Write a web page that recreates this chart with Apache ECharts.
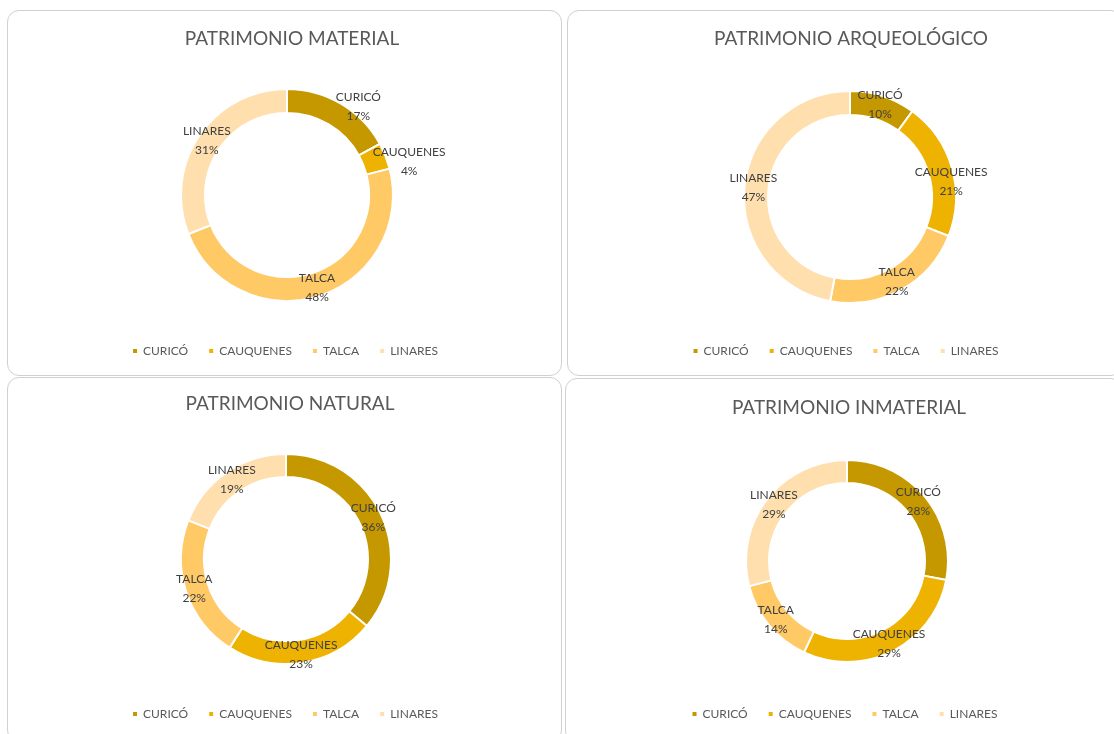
<!DOCTYPE html>
<html>
<head>
<meta charset="utf-8">
<script src="https://cdn.jsdelivr.net/npm/echarts@6/dist/echarts.min.js"></script>
<style>
  body { margin: 0; background: #fff; width: 1114px; height: 734px; overflow: hidden; position: relative; }
  .panel { position: absolute; border: 1px solid #d0d0d0; border-radius: 12px; box-sizing: border-box; background: #fff; }
</style>
</head>
<body>
<div id="chartMaterial" class="panel" style="left:7px; top:10px; width:555px; height:366px;"></div>
<div id="chartArqueo" class="panel" style="left:567px; top:10px; width:556px; height:366px;"></div>
<div id="chartNatural" class="panel" style="left:7px; top:377px; width:555px; height:365px;"></div>
<div id="chartInmaterial" class="panel" style="left:565px; top:378px; width:558px; height:365px;"></div>
<script>
// provincias
var provincias = ['CURICÓ', 'CAUQUENES', 'TALCA', 'LINARES']
var colores = ['#C59800', '#EEB200', '#FFC966', '#FFDFAE']

// porcentajes por tipo de patrimonio
var material = [17, 4, 48, 31]
var arqueologico = [10, 21, 22, 47]
var natural = [36, 23, 22, 19]
var inmaterial = [28, 29, 14, 29]

function drawDonut (id, titulo, valores, layout) {
  var myChart = echarts.init(document.getElementById(id))
  var data = []
  for (var i = 0; i < provincias.length; i++) {
    var obj = { value: valores[i], name: provincias[i], itemStyle: { color: colores[i] } }
    // etiquetas movidas a mano (como en el original)
    if (layout.offsets && layout.offsets[i]) {
      obj.label = { offset: layout.offsets[i] }
    }
    data.push(obj)
  }
  myChart.setOption({
    animation: false,
    title: {
      text: titulo,
      left: layout.titleX,
      top: layout.titleY,
      textAlign: 'center',
      textStyle: { fontFamily: 'Lato', fontSize: 19, fontWeight: 'normal', color: '#595959' }
    },
    legend: {
      data: provincias,
      left: 'center',
      top: layout.legendY,
      icon: 'rect',
      itemWidth: 6,
      itemHeight: 6,
      itemGap: 19,
      textStyle: { fontFamily: 'Lato', fontSize: 12, color: '#595959' }
    },
    series: [
      {
        name: titulo,
        type: 'pie',
        center: layout.center,
        radius: layout.radius,
        startAngle: 90,
        clockwise: true,
        percentPrecision: 0,
        itemStyle: { borderColor: '#fff', borderWidth: 2 },
        label: {
          show: true,
          position: 'inside',
          formatter: '{b}\n{d}%',
          fontFamily: 'Lato',
          fontSize: 12,
          lineHeight: 19,
          color: '#404040'
        },
        labelLine: { show: false },
        data: data
      }
    ]
  })
}

drawDonut('chartMaterial', 'PATRIMONIO MATERIAL', material,
  { titleX: 279, titleY: 13, legendY: 329, center: [279, 184], radius: [82, 106],
    offsets: [[22, -5], [32, 2], null, null] })
drawDonut('chartArqueo', 'PATRIMONIO ARQUEOLÓGICO', arqueologico,
  { titleX: 278, titleY: 13, legendY: 329, center: [282, 186], radius: [82, 106],
    offsets: [null, [8, 12], null, null] })
drawDonut('chartNatural', 'PATRIMONIO NATURAL', natural,
  { titleX: 277, titleY: 11, legendY: 325, center: [278, 181], radius: [82, 105] })
drawDonut('chartInmaterial', 'PATRIMONIO INMATERIAL', inmaterial,
  { titleX: 278, titleY: 14, legendY: 324, center: [281, 182], radius: [78, 101] })
</script>
</body>
</html>
